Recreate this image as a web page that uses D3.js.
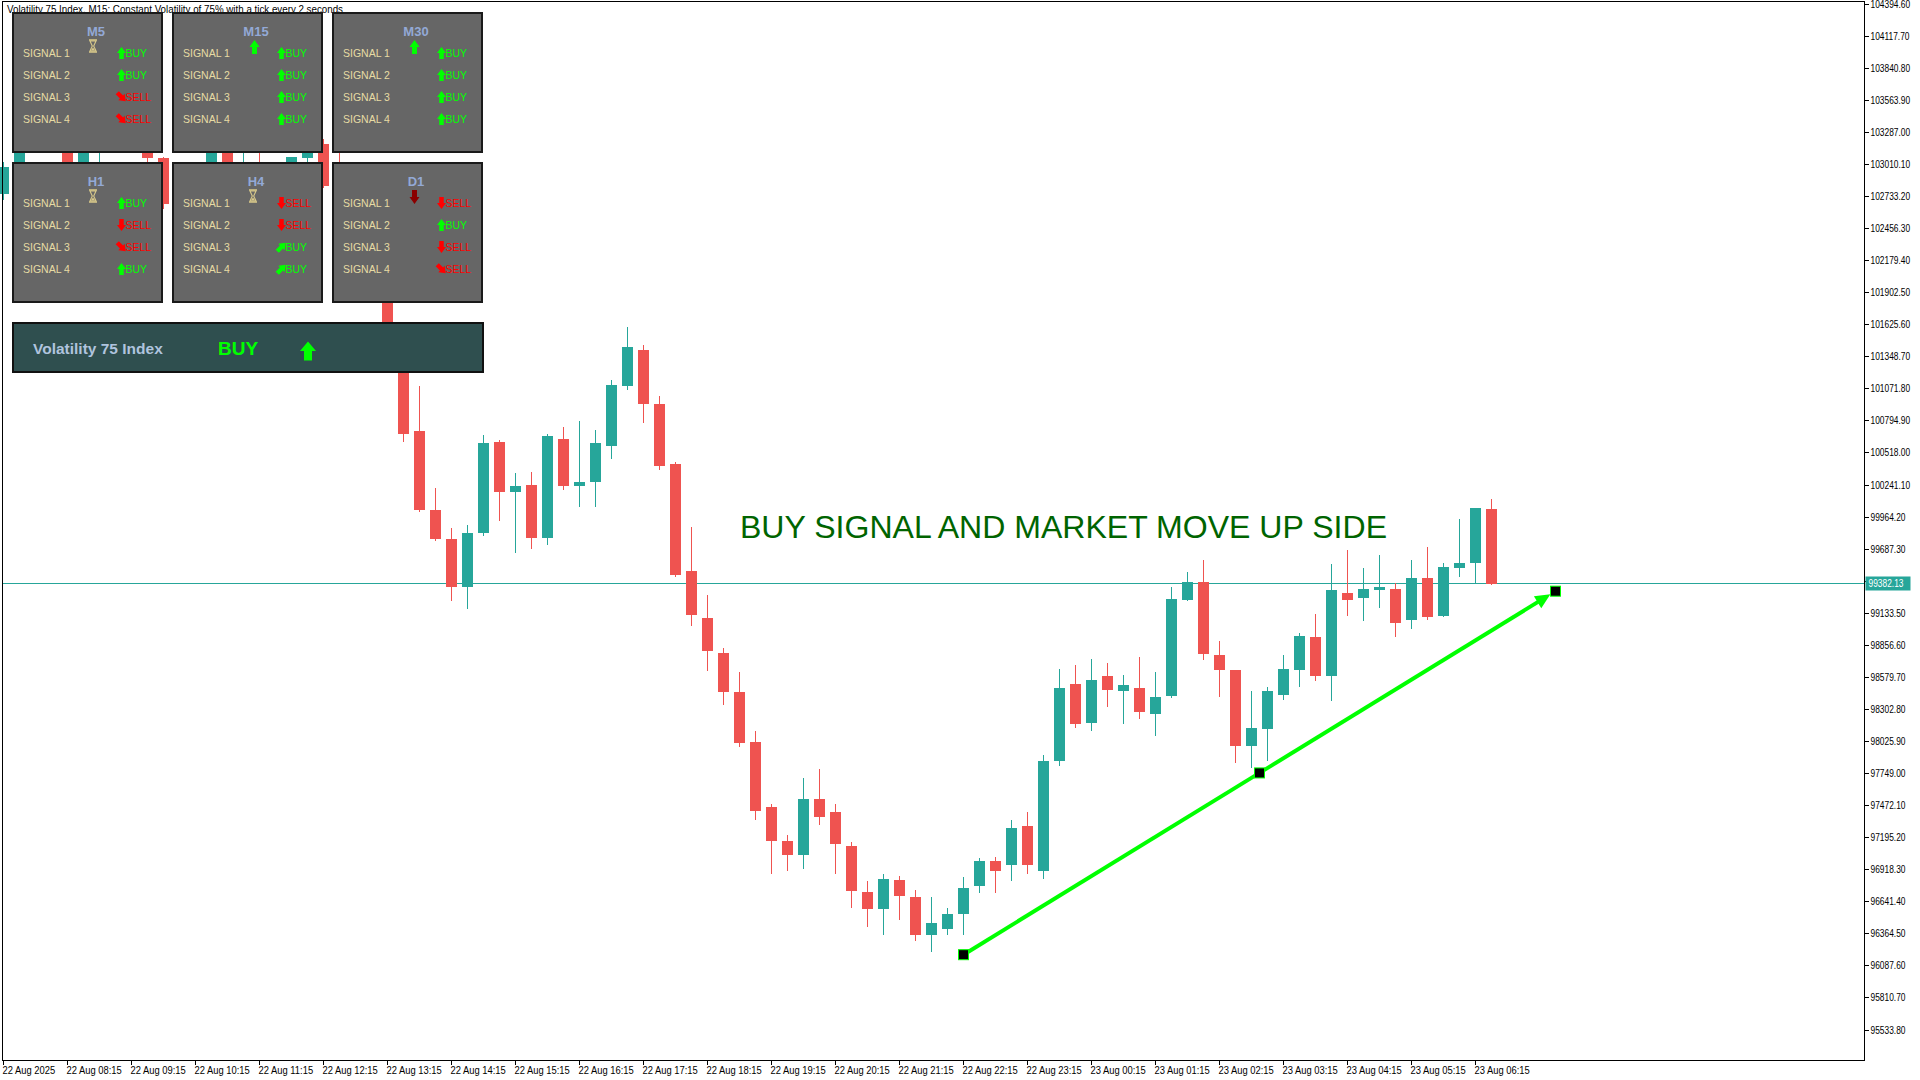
<!DOCTYPE html>
<html><head><meta charset="utf-8">
<script src="https://cdn.jsdelivr.net/npm/d3@7"></script>
<style>html,body{margin:0;padding:0;background:#fff;overflow:hidden}</style>
</head><body>
<svg id="chart" width="1920" height="1080"></svg>
<script>
// ---------------- DATA ----------------
const chartTitle = "Volatility 75 Index, M15:  Constant Volatility of 75% with a tick every 2 seconds";
const opens = [102747,102988,103140,103260,103150,102990,103140,103300,103180,103260,103066,102661,102850,102950,103150,102870,102995,102900,102780,103060,103186,102824,102700,102500,102100,101455,100704,100017,99773,99360,99823,100609,100177,100238,99780,100635,100229,100263,100574,101093,101404,100937,100419,99495,99089,98786,98450,98015,97452,97165,97038,97526,97409,97123,96720,96572,96826,96678,96349,96402,96529,96773,96985,96953,97293,96900,97854,98522,98183,98586,98459,98480,98257,98416,99243,99402,98766,98639,97982,98130,98427,98639,98925,98586,99307,99264,99328,99338,99074,99434,99105,99519,99561,100027];
const highs = [103030,103180,103300,103290,103170,103160,103330,103350,103290,103280,103070,102900,102990,103180,103170,103130,103120,102950,103074,103230,103230,103120,102750,102550,102150,101500,101093,100212,99869,99890,100669,100626,100341,100350,100680,100739,100790,100713,101140,101602,101447,101006,100440,99875,99288,98830,98622,98109,97480,97218,97706,97780,97484,97155,96816,96879,96858,96742,96678,96582,96847,97017,97028,97346,97409,97907,98649,98681,98734,98702,98596,98755,98618,99360,99487,99593,98893,98639,98459,98490,98766,98957,99126,99551,99678,99519,99635,99391,99593,99699,99561,99943,100038,100112];
const lows = [102700,102950,103120,103115,102960,102970,103020,103150,103130,103023,102620,102600,102800,102930,102960,102850,102880,102700,102750,103023,102800,102650,102450,102000,101420,100609,100000,99750,99233,99169,99800,99922,99650,99685,99719,100190,100048,100048,100462,101060,100773,100367,99443,99020,98631,98338,97975,97346,96879,96900,96922,97303,96879,96582,96423,96349,96476,96296,96201,96349,96349,96710,96710,96816,96879,96837,97812,98141,98109,98321,98172,98215,98066,98395,99232,98724,98406,97833,97791,97854,98384,98490,98543,98374,99105,99063,99179,98925,98989,99074,99095,99444,99391,99370];
const closes = [102988,103140,103260,103150,102990,103140,103300,103180,103260,103066,102661,102850,102950,103150,102990,102995,102900,102780,103074,103200,102824,102700,102500,102100,101455,100678,100017,99773,99360,99826,100600,100177,100229,99780,100661,100229,100263,100600,101101,101430,100937,100402,99460,99115,98804,98450,98009,97420,97165,97038,97526,97367,97134,96731,96572,96837,96688,96349,96455,96529,96752,96985,96900,97271,96953,97854,98480,98172,98554,98469,98512,98278,98406,99254,99402,98777,98639,97982,98141,98459,98649,98936,98586,99328,99243,99338,99360,99042,99434,99095,99529,99561,100038,99382.13];

const timeLabels = ["22 Aug 2025","22 Aug 08:15","22 Aug 09:15","22 Aug 10:15","22 Aug 11:15","22 Aug 12:15","22 Aug 13:15","22 Aug 14:15","22 Aug 15:15","22 Aug 16:15","22 Aug 17:15","22 Aug 18:15","22 Aug 19:15","22 Aug 20:15","22 Aug 21:15","22 Aug 22:15","22 Aug 23:15","23 Aug 00:15","23 Aug 01:15","23 Aug 02:15","23 Aug 03:15","23 Aug 04:15","23 Aug 05:15","23 Aug 06:15"];
const timeLabelBars = [0,4,8,12,16,20,24,28,32,36,40,44,48,52,56,60,64,68,72,76,80,84,88,92];

const priceTicks = ["95533.80","95810.70","96087.60","96364.50","96641.40","96918.30","97195.20","97472.10","97749.00","98025.90","98302.80","98579.70","98856.60","99133.50","99410.40","99687.30","99964.20","100241.10","100518.00","100794.90","101071.80","101348.70","101625.60","101902.50","102179.40","102456.30","102733.20","103010.10","103287.00","103563.90","103840.80","104117.70","104394.60"];
const currentPrice = 99382.13;

const arrowBars = [60, 97];
const arrowPrices = [96180, 99320];
const annotation = "BUY SIGNAL AND MARKET MOVE UP SIDE";

const panelNames = ["M5","M15","M30","H1","H4","D1"];
const panelIcons = ["wait","up","up","wait","wait","down"];
const signalNames = ["SIGNAL 1","SIGNAL 2","SIGNAL 3","SIGNAL 4"];
const signalDirs = [
  ["up","up","dr","dr"],
  ["up","up","up","up"],
  ["up","up","up","up"],
  ["up","down","dr","up"],
  ["down","down","ur","ur"],
  ["down","up","down","dr"]
];
const summaryName = "Volatility 75 Index";
const summarySignal = "BUY";

// ---------------- SCALES ----------------
const svg = d3.select("#chart");
const W = 1920, H = 1080;
const plotRight = 1864.5, plotBottom = 1060;
const x = d3.scaleLinear().domain([0, 93]).range([3, 3 + 16 * 93]);
const y = d3.scaleLinear().domain([95533.8, 104394.6]).range([1029.5, 3.7]);

const UP = "#26a69a", DOWN = "#ef5350";
const FONT = "'Liberation Sans', Arial, sans-serif";

svg.append("rect").attr("width", W).attr("height", H).attr("fill", "#fff");

// current price line (behind candles)
svg.append("line").attr("x1", 3).attr("x2", plotRight)
  .attr("y1", Math.round(y(currentPrice)) - 0.5).attr("y2", Math.round(y(currentPrice)) - 0.5)
  .attr("stroke", UP).attr("stroke-width", 1);

// candles
const bars = d3.range(opens.length).map(i => ({i, o: opens[i], h: highs[i], l: lows[i], c: closes[i]}));
const g = svg.append("g").attr("shape-rendering", "crispEdges");
g.selectAll("line.wick").data(bars).join("line")
  .attr("x1", d => x(d.i) + 0.5).attr("x2", d => x(d.i) + 0.5)
  .attr("y1", d => y(d.h)).attr("y2", d => y(d.l))
  .attr("stroke", d => d.c >= d.o ? UP : DOWN).attr("stroke-width", 1);
g.selectAll("rect.body").data(bars).join("rect")
  .attr("x", d => x(d.i) - 5).attr("width", 11)
  .attr("y", d => y(Math.max(d.o, d.c)))
  .attr("height", d => Math.max(1.5, Math.abs(y(d.o) - y(d.c))))
  .attr("fill", d => d.c >= d.o ? UP : DOWN);

// frame
svg.append("rect").attr("x", 2.5).attr("y", 1.5).attr("width", plotRight - 2.5).attr("height", plotBottom - 1.5)
  .attr("fill", "none").attr("stroke", "#000").attr("stroke-width", 1).attr("shape-rendering", "crispEdges");

// title
svg.append("text").attr("x", 7).attr("y", 12.5).text(chartTitle)
  .attr("font-family", FONT).attr("font-size", 10).attr("fill", "#000")
  .attr("textLength", 336).attr("lengthAdjust", "spacingAndGlyphs");

// price axis
const pa = svg.append("g");
priceTicks.forEach(t => {
  const v = +t, yy = Math.round(y(v)) + 0.5;
  pa.append("line").attr("x1", plotRight).attr("x2", plotRight + 4).attr("y1", yy).attr("y2", yy)
    .attr("stroke", "#000").attr("shape-rendering", "crispEdges");
  pa.append("text").attr("transform", `translate(${plotRight + 6},${yy + 3.4}) scale(0.84,1)`)
    .attr("font-family", FONT).attr("font-size", 10).attr("fill", "#000").text(t);
});
// current price tag
const cy = Math.round(y(currentPrice)) - 0.5;
pa.append("rect").attr("x", plotRight + 1).attr("y", cy - 7).attr("width", 45).attr("height", 14).attr("fill", UP);
pa.append("text").attr("transform", `translate(${plotRight + 4},${cy + 3.6}) scale(0.84,1)`)
  .attr("font-family", FONT).attr("font-size", 10).attr("fill", "#fff").text(currentPrice.toFixed(2));

// time axis
const ta = svg.append("g");
timeLabels.forEach((t, k) => {
  const xx = x(timeLabelBars[k]) + 0.5;
  ta.append("line").attr("x1", xx).attr("x2", xx).attr("y1", plotBottom).attr("y2", plotBottom + 5)
    .attr("stroke", "#000").attr("shape-rendering", "crispEdges");
  ta.append("text").attr("transform", `translate(${xx - 1},${plotBottom + 14}) scale(0.94,1)`)
    .attr("font-family", FONT).attr("font-size", 10).attr("fill", "#000").text(t);
});

// annotation text
svg.append("text").attr("x", 740).attr("y", 538).text(annotation)
  .attr("font-family", FONT).attr("font-size", 32).attr("fill", "#006400")
  .attr("textLength", 647).attr("lengthAdjust", "spacingAndGlyphs");

// trend arrow
const p0 = [x(arrowBars[0]) + 0.5, y(arrowPrices[0])];
const p1 = [x(arrowBars[1]) + 0.5, y(arrowPrices[1])];
const dx = p1[0] - p0[0], dy = p1[1] - p0[1], len = Math.hypot(dx, dy);
const ux = dx / len, uy = dy / len;
const tip = [p1[0] - ux * 6, p1[1] - uy * 6];
const base = [tip[0] - ux * 15, tip[1] - uy * 15];
svg.append("line").attr("x1", p0[0]).attr("y1", p0[1]).attr("x2", base[0] + ux * 2).attr("y2", base[1] + uy * 2)
  .attr("stroke", "#00ff00").attr("stroke-width", 4);
svg.append("path").attr("d", `M${tip[0]},${tip[1]} L${base[0] - uy * 7},${base[1] + ux * 7} L${base[0] + uy * 7},${base[1] - ux * 7} Z`)
  .attr("fill", "#00ff00");
[p0, [(p0[0] + p1[0]) / 2, (p0[1] + p1[1]) / 2], p1].forEach(p => {
  svg.append("rect").attr("x", p[0] - 5).attr("y", p[1] - 5).attr("width", 10).attr("height", 10)
    .attr("fill", "#000").attr("stroke", "#00ff00").attr("stroke-width", 1);
});

// ---------------- PANELS ----------------
function arrowPath(w, h) {
  const hh = h * 0.5, sw = w * 0.5;
  return `M0,${-h/2} L${w/2},${-h/2+hh} L${sw/2},${-h/2+hh} L${sw/2},${h/2} L${-sw/2},${h/2} L${-sw/2},${-h/2+hh} L${-w/2},${-h/2+hh} Z`;
}
const rot = {up: 0, down: 180, dr: 135, ur: 45};
function drawArrow(parent, cx, cy2, dir, w, h, color) {
  parent.append("path").attr("d", arrowPath(w, h))
    .attr("transform", `translate(${cx},${cy2}) rotate(${rot[dir]})`).attr("fill", color);
}
function drawHourglass(parent, cx, cy2) {
  const gg = parent.append("g").attr("transform", `translate(${cx},${cy2})`);
  gg.append("path").attr("d", "M-4,-6 H4 M-4,6 H4").attr("stroke", "#d9c98a").attr("stroke-width", 1.4);
  gg.append("path").attr("d", "M-3,-5 L3,-5 L0.7,0 L3,5 L-3,5 L-0.7,0 Z").attr("fill", "none").attr("stroke", "#d9c98a").attr("stroke-width", 1.1);
  gg.append("path").attr("d", "M-2.2,4.6 L2.2,4.6 L0,1.5 Z").attr("fill", "#d9c98a");
}

const panelX = [13, 173, 333, 13, 173, 333];
const panelY = [13, 13, 13, 163, 163, 163];
const pw = 149, ph = 139;
panelNames.forEach((name, k) => {
  const px = panelX[k], py = panelY[k];
  const pg = svg.append("g");
  pg.append("rect").attr("x", px).attr("y", py).attr("width", pw).attr("height", ph)
    .attr("fill", "#666666").attr("stroke", "#1a1a1a").attr("stroke-width", 2);
  pg.append("text").attr("x", px + 83).attr("y", py + 22.5).attr("text-anchor", "middle")
    .attr("font-family", FONT).attr("font-weight", "bold").attr("font-size", 13).attr("fill", "#93a9d6").text(name);
  const ic = panelIcons[k];
  if (ic === "wait") drawHourglass(pg, px + 80, py + 33);
  else if (ic === "up") drawArrow(pg, px + 81.5, py + 34, "up", 10, 14, "#00ff00");
  else drawArrow(pg, px + 81.5, py + 34, "down", 10, 14, "#8b0000");
  signalNames.forEach((s, r) => {
    const rc = py + 40 + 22 * r;
    pg.append("text").attr("x", px + 10).attr("y", rc + 4).attr("font-family", FONT).attr("font-size", 10.5)
      .attr("fill", "#e6dca4").text(s);
    const dir = signalDirs[k][r];
    const isBuy = dir === "up" || dir === "ur";
    pg.append("text").attr("x", px + 112.5).attr("y", rc + 4).attr("font-family", FONT).attr("font-size", 10.5)
      .attr("fill", isBuy ? "#00ff00" : "#ff0000").text(isBuy ? "BUY" : "SELL");
    drawArrow(pg, px + 108.5, rc, dir, 9, 12, isBuy ? "#00ff00" : "#ff0000");
  });
});

// summary panel
const sg = svg.append("g");
sg.append("rect").attr("x", 13).attr("y", 323).attr("width", 470).attr("height", 49)
  .attr("fill", "#2f4f4f").attr("stroke", "#111").attr("stroke-width", 2);
sg.append("text").attr("x", 33).attr("y", 353.5).attr("font-family", FONT).attr("font-weight", "bold")
  .attr("font-size", 15.5).attr("fill", "#b0c4de").text(summaryName);
sg.append("text").attr("x", 218).attr("y", 355).attr("font-family", FONT).attr("font-weight", "bold")
  .attr("font-size", 19).attr("fill", "#00ff00").text(summarySignal);
drawArrow(sg, 308, 351, "up", 16, 19, "#00ff00");
</script>
</body></html>
